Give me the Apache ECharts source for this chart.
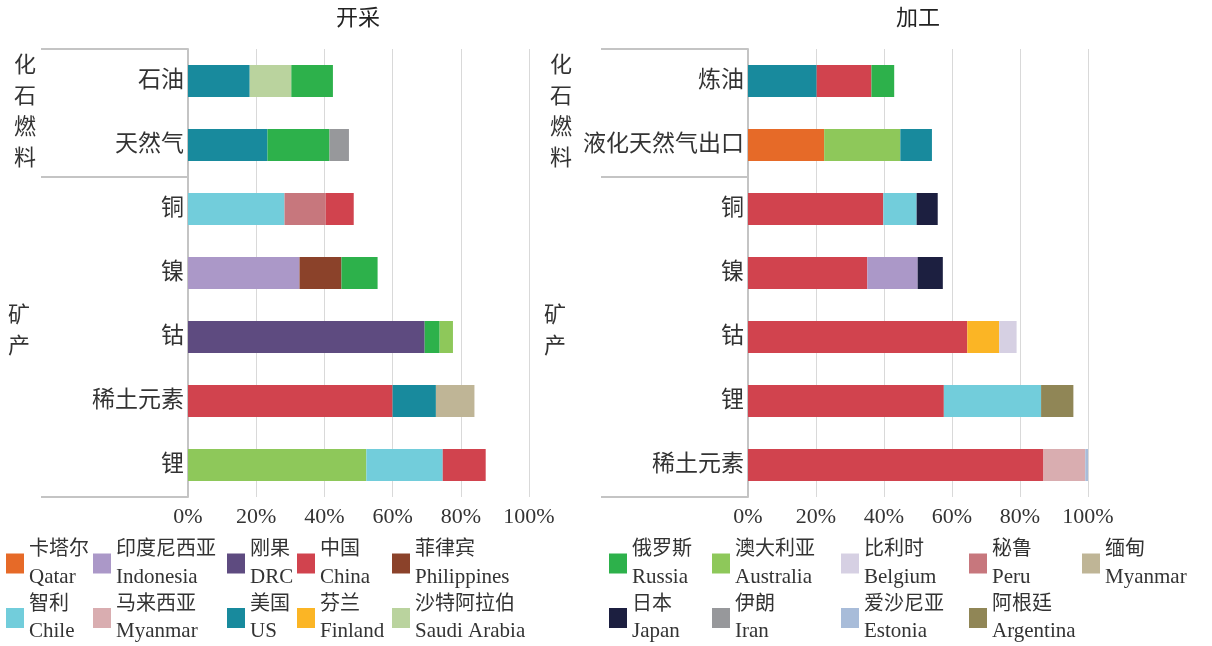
<!DOCTYPE html>
<html>
<head>
<meta charset="utf-8">
<title>开采 / 加工</title>
<script src="https://cdn.jsdelivr.net/npm/echarts@6/dist/echarts.min.js"></script>
<style>
  html, body { margin: 0; padding: 0; background: #fff; }
  #chart { width: 1212px; height: 646px; }
</style>
</head>
<body>
<div id="chart"></div>
<script>
// 开采
const miningCats = ['石油', '天然气', '铜', '镍', '钴', '稀土元素', '锂']
const miningFirst = ['美国', '美国', '智利', '印度尼西亚', '刚果', '中国', '澳大利亚']
const miningFirstVal = [18.1, 23.3, 28.3, 32.7, 69.4, 60.0, 52.3]
const miningSecond = ['沙特阿拉伯', '俄罗斯', '秘鲁', '菲律宾', '俄罗斯', '美国', '智利']
const miningSecondVal = [12.2, 18.2, 12.1, 12.3, 4.4, 12.7, 22.4]
const miningThird = ['俄罗斯', '伊朗', '中国', '俄罗斯', '澳大利亚', '缅甸', '中国']
const miningThirdVal = [12.2, 5.7, 8.2, 10.6, 3.9, 11.3, 12.6]

// 加工
const processCats = ['炼油', '液化天然气出口', '铜', '镍', '钴', '锂', '稀土元素']
const processFirst = ['美国', '卡塔尔', '中国', '中国', '中国', '中国', '中国']
const processFirstVal = [20.2, 22.4, 39.8, 35.1, 64.5, 57.6, 86.9]
const processSecond = ['中国', '澳大利亚', '智利', '印度尼西亚', '芬兰', '智利', '马来西亚']
const processSecondVal = [16.1, 22.4, 9.8, 14.8, 9.4, 28.6, 12.3]
const processThird = ['俄罗斯', '美国', '日本', '日本', '比利时', '阿根廷', '爱沙尼亚']
const processThirdVal = [6.7, 9.3, 6.2, 7.4, 5.1, 9.5, 0.8]

const xTicks = [0, 20, 40, 60, 80, 100]

// 图例 (两行)
const legendRow1 = ['卡塔尔', '印度尼西亚', '刚果', '中国', '菲律宾', '俄罗斯', '澳大利亚', '比利时', '秘鲁', '缅甸']
const legendRow2 = ['智利', '马来西亚', '美国', '芬兰', '沙特阿拉伯', '日本', '伊朗', '爱沙尼亚', '阿根廷']

const englishNames = {
  '卡塔尔': 'Qatar', '印度尼西亚': 'Indonesia', '刚果': 'DRC', '中国': 'China',
  '菲律宾': 'Philippines', '俄罗斯': 'Russia', '澳大利亚': 'Australia', '比利时': 'Belgium',
  '秘鲁': 'Peru', '缅甸': 'Myanmar', '智利': 'Chile', '马来西亚': 'Myanmar',
  '美国': 'US', '芬兰': 'Finland', '沙特阿拉伯': 'Saudi Arabia', '日本': 'Japan',
  '伊朗': 'Iran', '爱沙尼亚': 'Estonia', '阿根廷': 'Argentina'
}
const colors = {
  '卡塔尔': '#e66a28', '印度尼西亚': '#ab98c8', '刚果': '#5e4b80', '中国': '#d1434e',
  '菲律宾': '#8b422a', '俄罗斯': '#2db14b', '澳大利亚': '#8ec85a', '比利时': '#d6d0e3',
  '秘鲁': '#c7777d', '缅甸': '#bfb596', '智利': '#72cddb', '马来西亚': '#d9adb0',
  '美国': '#188a9d', '芬兰': '#fbb525', '沙特阿拉伯': '#bad39e', '日本': '#1c1f40',
  '伊朗': '#97989b', '爱沙尼亚': '#a8bcd9', '阿根廷': '#908656'
}

const FONT = "'Liberation Serif', 'Noto Sans CJK SC', serif"
const GRID_TOP = 49
const GRID_H = 448
const grids = [{ left: 188, width: 341 }, { left: 748, width: 340 }]
const legendLefts = [6, 93, 227, 297, 392, 609, 712, 841, 969, 1082]

// 每个排名一组系列，按排名顺序堆叠
function buildSeries (idx, ranks) {
  let out = []
  ranks.forEach(function (r) {
    let names = r[0]
    let vals = r[1]
    Array.from(new Set(names)).forEach(function (n) {
      out.push({
        type: 'bar',
        name: n,
        xAxisIndex: idx,
        yAxisIndex: idx,
        stack: 'g' + idx,
        barWidth: 32,
        itemStyle: { color: colors[n] },
        emphasis: { disabled: true },
        data: names.map(function (m, i) { return m === n ? vals[i] : null })
      })
    })
  })
  return out
}

let series = buildSeries(0, [
  [miningFirst, miningFirstVal], [miningSecond, miningSecondVal], [miningThird, miningThirdVal]
]).concat(buildSeries(1, [
  [processFirst, processFirstVal], [processSecond, processSecondVal], [processThird, processThirdVal]
]))

let legends = legendLefts.map(function (x, i) {
  let items = [legendRow1[i]]
  if (legendRow2[i]) items.push(legendRow2[i])
  return {
    orient: 'vertical',
    left: x,
    top: 540,
    padding: 0,
    itemGap: 7,
    itemWidth: 18,
    itemHeight: 20,
    icon: 'rect',
    selectedMode: false,
    data: items,
    formatter: function (name) {
      return '{cn|' + name + '}\n{en|' + englishNames[name] + '}'
    },
    textStyle: {
      fontFamily: FONT,
      color: '#333',
      rich: {
        cn: { fontSize: 20, lineHeight: 27, fontFamily: FONT, color: '#333' },
        en: { fontSize: 21, lineHeight: 27, fontFamily: FONT, color: '#333' }
      }
    }
  }
})

function xAxisOf (idx) {
  return {
    gridIndex: idx,
    type: 'value',
    min: 0,
    max: 100,
    interval: 20,
    axisLine: { show: false },
    axisTick: { show: false },
    axisLabel: {
      margin: 9,
      fontSize: 22,
      fontFamily: FONT,
      color: '#333',
      formatter: function (v) { return xTicks.indexOf(v) >= 0 ? v + '%' : '' }
    },
    splitLine: { show: true, lineStyle: { color: '#d9d9d9', width: 1 } }
  }
}

function yAxisOf (idx, cats) {
  return {
    gridIndex: idx,
    type: 'category',
    inverse: true,
    data: cats,
    axisLine: { show: true, lineStyle: { color: '#c4c4c4', width: 2 } },
    axisTick: { show: false },
    axisLabel: { margin: 4, fontSize: 23, fontFamily: FONT, color: '#333' }
  }
}

// 分组框线和分组文字
function bracket (x0, x1) {
  return [GRID_TOP, 177, GRID_TOP + GRID_H].map(function (y) {
    return {
      type: 'line',
      shape: { x1: x0, y1: y, x2: x1, y2: y },
      style: { stroke: '#c4c4c4', lineWidth: 2 }
    }
  })
}
function groupText (x, y, txt) {
  return {
    type: 'text',
    x: x,
    y: y,
    style: {
      text: txt,
      font: '22px ' + FONT,
      lineHeight: 31,
      fill: '#333',
      align: 'center',
      verticalAlign: 'top'
    }
  }
}
function titleText (x, txt) {
  return {
    type: 'text',
    x: x,
    y: 19,
    style: { text: txt, font: '22px ' + FONT, fill: '#222', align: 'center', verticalAlign: 'middle' }
  }
}

let graphics = [].concat(
  bracket(41, 188), bracket(601, 748),
  [
    groupText(25, 51, '化\n石\n燃\n料'),
    groupText(19, 301, '矿\n产'),
    groupText(561, 51, '化\n石\n燃\n料'),
    groupText(555, 301, '矿\n产'),
    titleText(358, '开采'),
    titleText(918, '加工')
  ]
)

let chart = echarts.init(document.getElementById('chart'))
chart.setOption({
  animation: false,
  backgroundColor: '#fff',
  grid: grids.map(function (g) {
    return { left: g.left, width: g.width, top: GRID_TOP, height: GRID_H, containLabel: false }
  }),
  xAxis: [xAxisOf(0), xAxisOf(1)],
  yAxis: [yAxisOf(0, miningCats), yAxisOf(1, processCats)],
  legend: legends,
  graphic: graphics,
  series: series
})
window.addEventListener('resize', function () {
  chart.resize()
})
</script>
</body>
</html>
